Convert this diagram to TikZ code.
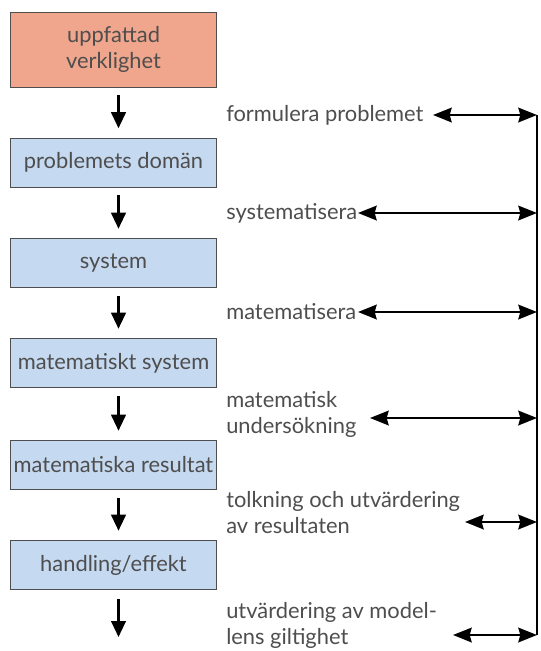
\documentclass[tikz,border=0pt]{standalone}
\usepackage{fontspec}
\setmainfont{Lato}
\usetikzlibrary{arrows.meta,positioning}
\definecolor{ink}{RGB}{78,78,78}
\definecolor{realred}{RGB}{240,166,140}
\definecolor{stageblue}{RGB}{197,217,240}

\begin{document}
\begin{tikzpicture}[x=0.75pt,y=-0.75pt,font=\fontsize{16.4}{19.5}\selectfont,
    stage/.style={draw=ink,line width=0.7pt,fill=stageblue,text=ink,align=center,inner sep=0pt,minimum width=154.5pt,minimum height=36.75pt},
    note/.style={anchor=west,text=ink,align=left,inner sep=0pt},
    flow/.style={-{Triangle[length=12pt,width=11pt]},line width=1.6pt},
    link/.style={{Stealth[length=14pt,width=11pt,inset=1.5pt]}-{Stealth[length=14pt,width=11pt,inset=1.5pt]},line width=1.6pt}]
  \useasboundingbox (0,0) rectangle (541,651);
  \node[stage,fill=realred,minimum height=56.25pt] (real) at (113.5,49.5) {uppfattad\\verklighet};
  \node[stage] (domain) at (113.5,162.5) {problemets domän};
  \node[stage] (sys) at (113.5,263) {system};
  \node[stage] (mathsys) at (113.5,363) {matematiskt system};
  \node[stage] (results) at (113.5,465) {matematiska resultat};
  \node[stage] (action) at (113.5,565) {handling/effekt};
  \coordinate (end) at (118.5,637);
  \foreach \a/\b in {real/domain,domain/sys,sys/mathsys,mathsys/results,results/action}
    \draw[flow,shorten <=6pt,shorten >=7pt] ([xshift=3.75pt]\a.south) -- ([xshift=3.75pt]\b.north);
  \draw[flow,shorten <=7pt] ([xshift=3.75pt]action.south) -- (end);
  \node[note] (formulate) at (226,115) {formulera problemet};
  \node[note] (systematize) at (226,213) {systematisera};
  \node[note] (mathematize) at (226,312) {matematisera};
  \node[note] (investigate) at (226,414) {matematisk\\undersökning};
  \node[note] (interpret) at (226,513) {tolkning och utvärdering\\av resultaten};
  \node[note] (validate) at (226,625) {utvärdering av model-\\lens giltighet};
  \foreach \n/\y/\x in {1/115/433,2/213/358,3/312/358,4/418/370,5/522/465,6/635/453}{
    \coordinate (l\n) at (\x,\y);
    \coordinate (r\n) at (537,\y);
    \draw[link] (l\n) -- (r\n);
  }
  \draw[line width=1.6pt] (r1) -- (r6);
\end{tikzpicture}
\end{document}
